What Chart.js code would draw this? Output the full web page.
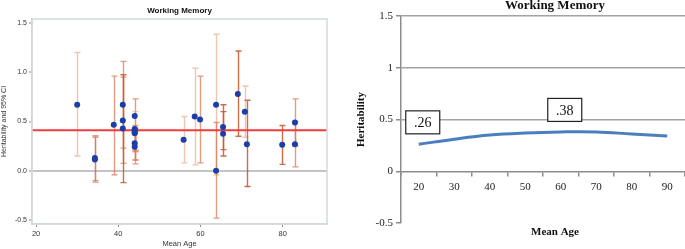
<!DOCTYPE html>
<html>
<head>
<meta charset="utf-8">
<script src="https://cdn.jsdelivr.net/npm/chart.js@4.4.1/dist/chart.umd.min.js"></script>
<style>
  html, body { margin: 0; padding: 0; background: #fff; }
  #wrap { position: relative; width: 685px; height: 249px; overflow: hidden; }
  #left { position: absolute; left: 0; top: 0; width: 340px; height: 249px; }
  #right { position: absolute; left: 340px; top: 0; width: 345px; height: 249px; }
</style>
</head>
<body>
<div id="wrap">
  <canvas id="left" width="340" height="249"></canvas>
  <canvas id="right" width="345" height="249"></canvas>
</div>
<script>
// left panel: one row per study estimate
const studyAge   = [30, 34.3, 34.3, 38.9, 41.1, 41.1, 41.1, 44, 44, 44, 44, 44, 44, 44, 55.9, 58.6, 59.9, 63.8, 63.8, 65.5, 65.5, 69.1, 70.8, 71.3, 79.9, 83, 83];
const studyH2    = [0.67, 0.13, 0.115, 0.466, 0.67, 0.51, 0.43, 0.557, 0.425, 0.41, 0.39, 0.38, 0.28, 0.245, 0.314, 0.55, 0.52, 0.67, 0.0, 0.445, 0.375, 0.78, 0.60, 0.27, 0.265, 0.49, 0.27];
const studyCiLow = [0.15, -0.10, -0.115, -0.04, 0.23, 0.075, -0.12, 0.21, 0.11, 0.07, 0.19, 0.20, 0.20, 0.11, 0.08, 0.06, 0.08, -0.04, -0.48, 0.215, 0.15, 0.35, 0.34, -0.16, 0.065, 0.25, 0.04];
const studyCiHigh= [1.20, 0.34, 0.355, 0.96, 1.11, 0.95, 0.975, 0.73, 0.60, 0.46, 0.44, 0.43, 0.38, 0.40, 0.55, 1.04, 0.96, 1.385, 0.49, 0.67, 0.60, 1.215, 0.86, 0.715, 0.46, 0.73, 0.50];
const pooledH2 = 0.41;
const leftTicksX = [20, 40, 60, 80];
const leftTicksY = [-0.5, 0, 0.5, 1.0, 1.5];

// style only: shade of each error bar (0 pale, 1 mid, 2 dark)
const barShade = [0, 1, 1, 1, 1, 1, 2, 1, 0, 1, 0, 1, 0, 1, 0, 0, 1, 0, 1, 2, 2, 2, 0, 2, 2, 1, 1];
const shadeColors = ['rgba(228,150,115,0.55)', 'rgba(214,118,80,0.72)', 'rgba(200,92,55,0.9)'];

// right panel: fitted trend
const ageBins = ['20', '30', '40', '50', '60', '70', '80', '90'];
const trendH2 = [0.26, 0.31, 0.35, 0.37, 0.38, 0.38, 0.36, 0.34];
const labelledBins = [0, 4];
const labelTexts = ['.26', '.38'];

const sans = "'Liberation Sans', Arial, sans-serif";
const serif = "'Liberation Serif', 'Times New Roman', serif";

const errorBars = {
  id: 'errorBars',
  beforeDatasetsDraw(chart) {
    const { ctx, scales: { x, y }, chartArea } = chart;
    ctx.save();
    ctx.lineWidth = 1.4;
    studyAge.forEach((a, i) => {
      const px = Math.round(x.getPixelForValue(a)) + 0.5;
      const top = y.getPixelForValue(studyCiHigh[i]);
      const bot = y.getPixelForValue(studyCiLow[i]);
      ctx.strokeStyle = shadeColors[barShade[i]];
      ctx.beginPath();
      ctx.moveTo(px, top); ctx.lineTo(px, bot);
      ctx.moveTo(px - 3, top); ctx.lineTo(px + 3, top);
      ctx.moveTo(px - 3, bot); ctx.lineTo(px + 3, bot);
      ctx.stroke();
    });
    // pooled estimate
    const py = y.getPixelForValue(pooledH2);
    ctx.strokeStyle = '#f23c3c';
    ctx.lineWidth = 2;
    ctx.beginPath();
    ctx.moveTo(chartArea.left, py); ctx.lineTo(chartArea.right, py);
    ctx.stroke();
    ctx.restore();
  },
  afterDraw(chart) {
    const { ctx, chartArea } = chart;
    ctx.save();
    ctx.strokeStyle = '#d3dadd';
    ctx.lineWidth = 1.5;
    ctx.strokeRect(chartArea.left, chartArea.top, chartArea.right - chartArea.left, chartArea.bottom - chartArea.top);
    ctx.fillStyle = '#111';
    ctx.font = 'bold 8px ' + sans;
    ctx.textAlign = 'center';
    ctx.textBaseline = 'middle';
    ctx.fillText('Working Memory', (chartArea.left + chartArea.right) / 2, 11);
    ctx.restore();
  }
};

new Chart(document.getElementById('left'), {
  type: 'scatter',
  data: {
    datasets: [{
      data: studyAge.map((a, i) => ({ x: a, y: studyH2[i] })),
      backgroundColor: '#1b3fa8',
      borderColor: '#1b3fa8',
      pointRadius: 3,
      pointBorderWidth: 0
    }]
  },
  options: {
    responsive: false,
    animation: false,
    layout: { padding: { top: 19, right: 13, left: 0, bottom: 0 } },
    plugins: { legend: { display: false }, tooltip: { enabled: false } },
    scales: {
      x: {
        type: 'linear', min: 19, max: 90.8,
        afterBuildTicks: s => { s.ticks = leftTicksX.map(v => ({ value: v })); },
        afterFit: s => { s.height = 25; },
        grid: { drawOnChartArea: false, tickLength: 3, color: '#8a8a8a' },
        border: { color: '#c9d1d4', width: 1.5 },
        ticks: { font: { family: sans, size: 7.5 }, color: '#333', padding: 2, maxRotation: 0 },
        title: { display: true, text: 'Mean Age', font: { family: sans, size: 7.5 }, color: '#333', padding: { top: 0, bottom: 1 } }
      },
      y: {
        type: 'linear', min: -0.54, max: 1.54,
        afterBuildTicks: s => { s.ticks = leftTicksY.map(v => ({ value: v })); },
        afterFit: s => { s.width = 32; },
        grid: {
          color: c => (c.tick && c.tick.value === 0) ? '#c4c4c4' : 'rgba(0,0,0,0)',
          lineWidth: 2, tickLength: 3, tickColor: '#8a8a8a', tickWidth: 1
        },
        border: { color: '#c9d1d4', width: 1.5 },
        ticks: { font: { family: sans, size: 7 }, color: '#333', padding: 2, callback: v => v.toFixed(1) },
        title: { display: true, text: 'Heritability and 95% CI', font: { family: sans, size: 7 }, color: '#333', padding: { top: 0, bottom: 0 } }
      }
    }
  },
  plugins: [errorBars]
});

const trendDecor = {
  id: 'trendDecor',
  afterDatasetsDraw(chart) {
    const { ctx, chartArea } = chart;
    const meta = chart.getDatasetMeta(0);
    ctx.save();
    labelledBins.forEach((idx, k) => {
      const el = meta.data[idx];
      const cx = el.x + 4, cy = el.y - 22;
      ctx.fillStyle = '#fff';
      ctx.fillRect(cx - 17, cy - 11.5, 34, 23);
      ctx.strokeStyle = '#222';
      ctx.lineWidth = 1.2;
      ctx.strokeRect(cx - 17, cy - 11.5, 34, 23);
      ctx.fillStyle = '#111';
      ctx.font = '14px ' + serif;
      ctx.textAlign = 'center';
      ctx.textBaseline = 'middle';
      ctx.fillText(labelTexts[k], cx, cy + 1);
    });
    ctx.fillStyle = '#111';
    ctx.textAlign = 'center';
    ctx.textBaseline = 'middle';
    ctx.font = 'bold 13px ' + serif;
    ctx.fillText('Working Memory', (chartArea.left + chartArea.right) / 2 + 12, 6);
    ctx.font = 'bold 11px ' + serif;
    ctx.fillText('Mean Age', (chartArea.left + chartArea.right) / 2 + 12, 232);
    ctx.restore();
  }
};

new Chart(document.getElementById('right'), {
  type: 'line',
  data: {
    labels: ageBins,
    datasets: [{
      data: trendH2,
      borderColor: '#4a7ebf',
      borderWidth: 3,
      pointRadius: 0,
      tension: 0.4,
      fill: false
    }]
  },
  options: {
    responsive: false,
    animation: false,
    layout: { padding: { top: 16, right: 0, bottom: 26, left: 0 } },
    plugins: { legend: { display: false }, tooltip: { enabled: false } },
    scales: {
      x: {
        type: 'category',
        position: { y: 0 },
        offset: true,
        grid: { offset: true, drawOnChartArea: false, tickLength: 4, color: '#8c8c8c', lineWidth: 1.5 },
        border: { color: '#8c8c8c', width: 1.5 },
        ticks: { font: { family: serif, size: 11 }, color: '#222', padding: 5, maxRotation: 0 }
      },
      y: {
        min: -0.5, max: 1.5,
        afterFit: s => { s.width = 61; },
        grid: {
          color: c => (c.tick && c.tick.value > 0) ? '#a3a3a3' : 'rgba(0,0,0,0)',
          lineWidth: 1.5, tickLength: 5, tickColor: '#8c8c8c'
        },
        border: { color: '#8c8c8c', width: 1.5 },
        ticks: { stepSize: 0.5, font: { family: serif, size: 11 }, color: '#222', padding: 3, callback: v => String(v) },
        title: { display: true, text: 'Heritability', font: { family: serif, size: 11, weight: 'bold' }, color: '#111', padding: { top: 15, bottom: 0 } }
      }
    }
  },
  plugins: [trendDecor]
});
</script>
</body>
</html>
